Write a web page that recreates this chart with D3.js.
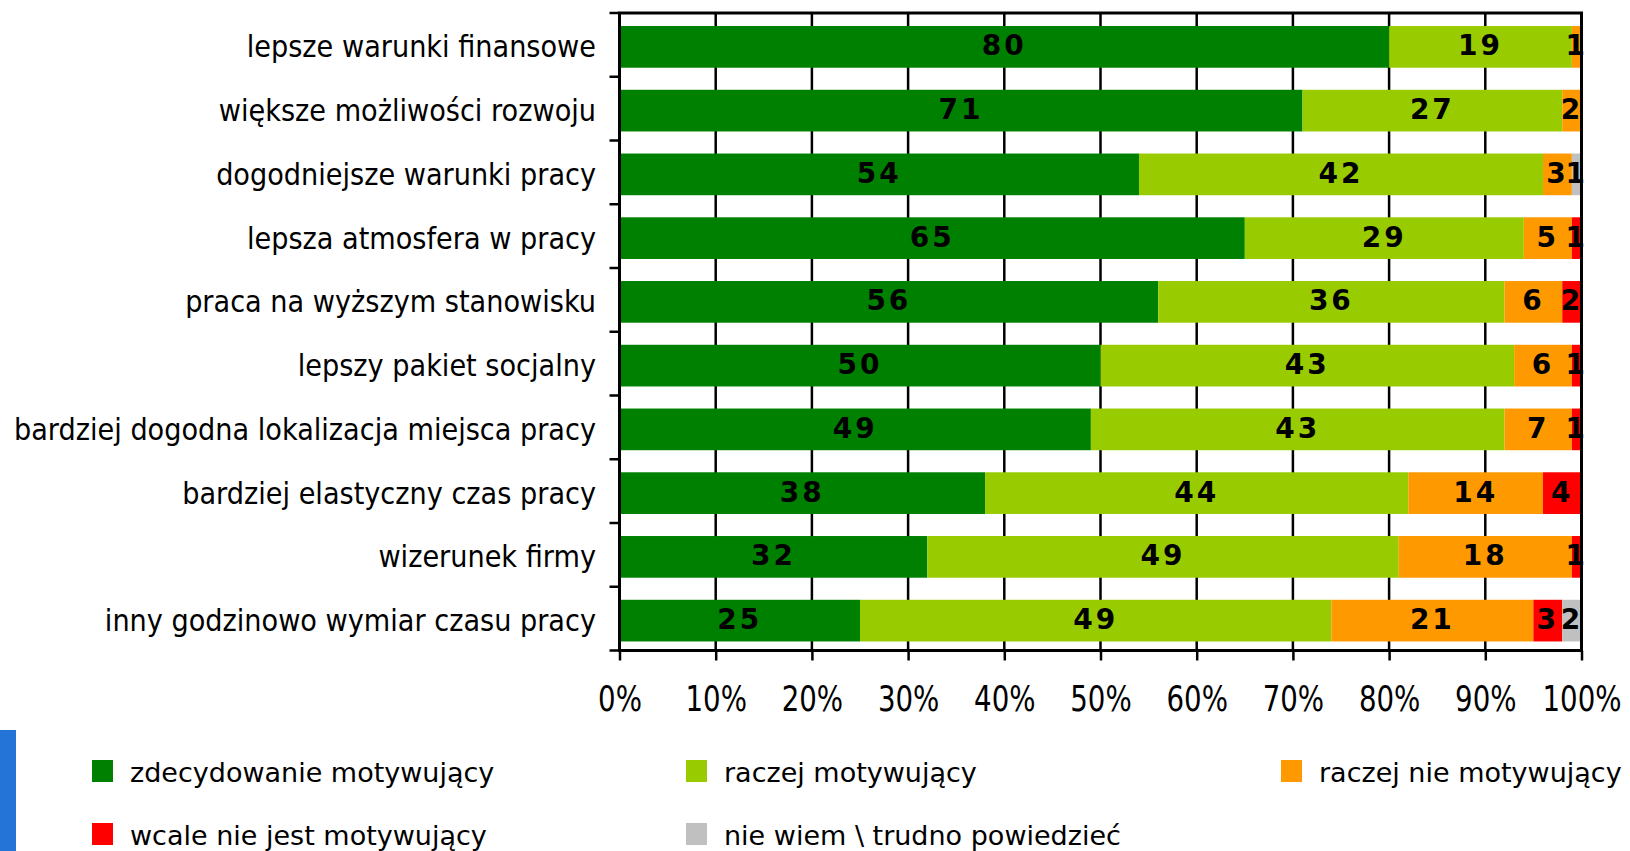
<!DOCTYPE html>
<html>
<head>
<meta charset="utf-8">
<script src="https://cdn.jsdelivr.net/npm/d3@7"></script>
<style>
  body { margin: 0; background: #fff; }
  svg { display: block; font-family: "DejaVu Sans", Verdana, sans-serif; }
</style>
</head>
<body>
<div class="chartContainer"></div>
<script>
// categories (top to bottom)
var categories = ["lepsze warunki finansowe", "większe możliwości rozwoju", "dogodniejsze warunki pracy",
    "lepsza atmosfera w pracy", "praca na wyższym stanowisku", "lepszy pakiet socjalny",
    "bardziej dogodna lokalizacja miejsca pracy", "bardziej elastyczny czas pracy",
    "wizerunek firmy", "inny godzinowo wymiar czasu pracy"];

// series names (legend order)
var seriesNames = ["zdecydowanie motywujący", "raczej motywujący", "raczej nie motywujący",
    "wcale nie jest motywujący", "nie wiem \\ trudno powiedzieć"];

// series values, one per category
var zdecydowanie = [80, 71, 54, 65, 56, 50, 49, 38, 32, 25];
var raczej       = [19, 27, 42, 29, 36, 43, 43, 44, 49, 49];
var raczejNie    = [1, 2, 3, 5, 6, 6, 7, 14, 18, 21];
var wcaleNie     = [0, 0, 0, 1, 2, 1, 1, 4, 1, 3];
var nieWiem      = [0, 0, 1, 0, 0, 0, 0, 0, 0, 2];

// x tick values (percent)
var xTicks = [0, 10, 20, 30, 40, 50, 60, 70, 80, 90, 100];

var seriesColors = ["#008000", "#99cc00", "#ff9900", "#ff0000", "#c0c0c0"];

window.onload = drawChart();

function drawChart(){
    var width = 1630,
        height = 851;

    var plotLeft = 619.5, plotRight = 1581.5,
        plotTop = 13, plotBottom = 650.5;

    var svg = d3.select("div.chartContainer")
        .append("svg")
        .attr("width", width)
        .attr("height", height);

    // build rows for the stack
    var seriesArrays = [zdecydowanie, raczej, raczejNie, wcaleNie, nieWiem];
    var rows = categories.map(function(c, i){
        var row = {cat: c};
        seriesNames.forEach(function(s, j){ row[s] = seriesArrays[j][i]; });
        return row;
    });
    var stacked = d3.stack().keys(seriesNames)(rows);

    var x = d3.scaleLinear()
        .domain([0, 100])
        .range([plotLeft, plotRight]);

    // bars sit ~2px below the category boundaries in the original
    var y = d3.scaleBand()
        .domain(categories)
        .range([plotTop + 2, plotBottom + 2])
        .paddingInner(0.346)
        .paddingOuter(0.173);

    //vertical gridlines
    svg.append("g")
        .selectAll("line")
        .data(xTicks.slice(1, -1))
        .enter()
        .append("line")
        .attr("x1", function(d){ return x(d); })
        .attr("x2", function(d){ return x(d); })
        .attr("y1", plotTop)
        .attr("y2", plotBottom)
        .attr("stroke", "#000")
        .attr("stroke-width", 2.5);

    //stacked bars
    var layers = svg.append("g")
        .selectAll("g")
        .data(stacked)
        .enter()
        .append("g")
        .attr("fill", function(d, i){ return seriesColors[i]; });

    layers.selectAll("rect")
        .data(function(d){ return d; })
        .enter()
        .append("rect")
        .attr("x", function(d){ return x(d[0]); })
        .attr("width", function(d){ return x(d[1]) - x(d[0]); })
        .attr("y", function(d){ return y(d.data.cat); })
        .attr("height", y.bandwidth());

    //value labels
    layers.selectAll("text")
        .data(function(d){ return d.filter(function(v){ return v[1] - v[0] > 0; }); })
        .enter()
        .append("text")
        .attr("x", function(d){ return (x(d[0]) + x(d[1])) / 2; })
        .attr("y", function(d){ return y(d.data.cat) + y.bandwidth() / 2 + 8.5; })
        .attr("text-anchor", "middle")
        .attr("fill", "#000")
        .style("font-size", "28px")
        .style("font-weight", "bold")
        .style("letter-spacing", "3px")
        .text(function(d){ return d[1] - d[0]; });

    //plot frame
    svg.append("rect")
        .attr("x", plotLeft)
        .attr("y", plotTop)
        .attr("width", plotRight - plotLeft)
        .attr("height", plotBottom - plotTop)
        .attr("fill", "none")
        .attr("stroke", "#000")
        .attr("stroke-width", 3);

    //x axis ticks and labels
    var xAxis = d3.axisBottom(x)
        .tickValues(xTicks)
        .tickSize(10)
        .tickPadding(25)
        .tickFormat(function(d){ return d + "%"; });

    var gx = svg.append("g")
        .attr("transform", "translate(0," + plotBottom + ")")
        .call(xAxis);
    gx.select(".domain").remove();
    gx.selectAll("line").attr("stroke", "#000").attr("stroke-width", 2.5);
    gx.selectAll("text")
        .attr("fill", "#000")
        .attr("y", 61)
        .attr("dy", 0)
        .attr("transform", "scale(0.79,1)")
        .style("font-size", "35px")
        .style("font-family", "DejaVu Sans");

    //left ticks on category boundaries
    var step = (plotBottom - plotTop) / categories.length;
    svg.append("g")
        .selectAll("line")
        .data(d3.range(categories.length + 1))
        .enter()
        .append("line")
        .attr("x1", plotLeft - 10)
        .attr("x2", plotLeft)
        .attr("y1", function(i){ return plotTop + i * step; })
        .attr("y2", function(i){ return plotTop + i * step; })
        .attr("stroke", "#000")
        .attr("stroke-width", 2.5);

    //category labels
    svg.append("g")
        .selectAll("g")
        .data(categories)
        .enter()
        .append("g")
        .attr("transform", function(d){
            return "translate(596," + (y(d) + y.bandwidth() / 2 + 10.5) + ") scale(0.876,1)";
        })
        .append("text")
        .attr("text-anchor", "end")
        .style("font-size", "31px")
        .text(function(d){ return d; });

    //legend
    var legendX = [92, 686, 1281],
        legendY = [760, 823];
    var legend = svg.append("g")
        .selectAll("g")
        .data(seriesNames)
        .enter()
        .append("g")
        .attr("transform", function(d, i){
            return "translate(" + legendX[i % 3] + "," + legendY[Math.floor(i / 3)] + ")";
        });
    legend.append("rect")
        .attr("width", 21)
        .attr("height", 22)
        .attr("fill", function(d, i){ return seriesColors[i]; });
    legend.append("text")
        .attr("x", 38)
        .attr("y", 22)
        .style("font-size", "27px")
        .text(function(d){ return d; });

    //blue strip at the left edge
    svg.append("rect")
        .attr("x", 0)
        .attr("y", 730)
        .attr("width", 16)
        .attr("height", height - 730)
        .attr("fill", "#2374d6");
};
</script>
</body>
</html>
